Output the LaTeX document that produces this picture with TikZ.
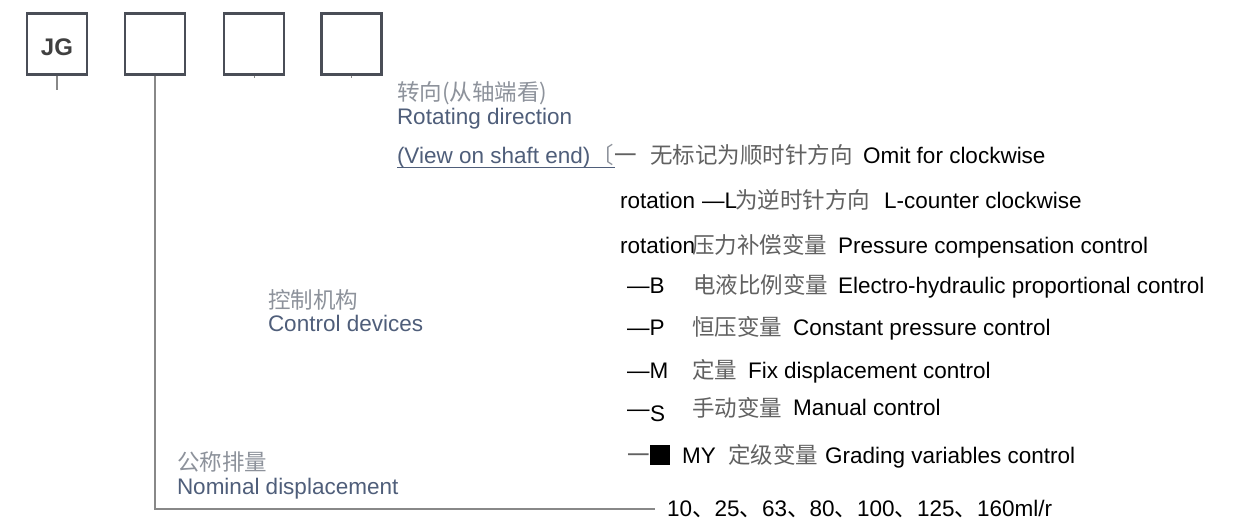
\documentclass[tikz,border=0pt]{standalone}
\usepackage{fontspec}
\setmainfont{Liberation Sans}
\newfontfamily\cjk{Noto Sans CJK SC}
\definecolor{lblue}{HTML}{4F5E7A}
\definecolor{lgray}{HTML}{8D929B}
\definecolor{bgray}{HTML}{616161}
\definecolor{boxc}{HTML}{4A4E57}
\definecolor{connc}{HTML}{888888}
\newcommand\myfs{\fontsize{22.5}{26}\selectfont}
\begin{document}
\begin{tikzpicture}[x=1pt,y=-1pt,
  box/.style={draw=boxc, line width=2.2pt, minimum width=60pt, minimum height=61pt, inner sep=0pt},
  conn/.style={draw=connc, line width=1.6pt},
  t/.style={anchor=base west, inner sep=0pt, outer sep=0pt, font=\myfs},
  lab/.style={t, text=lblue},
  labc/.style={t, text=lgray, font=\myfs\cjk},
  body/.style={t, text=black},
  bodyc/.style={t, text=bgray, font=\myfs\cjk},
]
\fill[white] (0,0) rectangle (1245,520);
\useasboundingbox (0,0) rectangle (1245,520);

% boxes
\node[box] (jg) at (57,44) {};
\node[anchor=base, inner sep=0pt, font=\fontsize{24}{24}\selectfont\bfseries, text=black!75] (jgt) at (57,55.5) {JG};
\node[box] (b2) at (155,44) {};
\node[box] (b3) at (254,44) {};
\node[box] (b4) at (351.5,44) {};

% connectors
\coordinate (jgend) at (57,90);
\coordinate (b3end) at (254,78);
\coordinate (b4end) at (351.5,78);
\coordinate (corner) at (155,509);
\coordinate (numend) at (655,509);
\draw[conn] (jg.south) -- (jgend);
\draw[conn, line width=1pt] (b3.south) -- (b3end);
\draw[conn, line width=1pt] (b4.south) -- (b4end);
\draw[conn] (b2.south) -- (corner) -- (numend);

% rotating direction
\node[labc] (zxcn) at (397,100) {转向(从轴端看)};
\node[lab] (zxen) at (397,124) {Rotating direction};
\node[lab] (view) at (397,163) {(View on shaft end)};
\node[bodyc, text=lgray] (brk) at (591,163) {〔};
\node[bodyc] (yi) at (614,163) {一};
\draw[lblue, line width=1.2pt] (397,167.5) -- (615,167.5);
\node[bodyc] (r1c) at (650,163) {无标记为顺时针方向};
\node[body] (r1e) at (863,163) {Omit for clockwise};

\node[body] (r2a) at (620,208) {rotation};
\node[body] (r2b) at (702,208) {—L};
\node[bodyc] (r2c) at (735,208) {为逆时针方向};
\node[body] (r2e) at (884,208) {L-counter clockwise};

% control devices
\node[body] (r3a) at (620,253) {rotation};
\node[bodyc] (r3c) at (692,253) {压力补偿变量};
\node[body] (r3e) at (838,253) {Pressure compensation control};

\node[body] (rBk) at (627,293) {—B};
\node[bodyc] (rBc) at (693,293) {电液比例变量};
\node[body] (rBe) at (838,293) {Electro-hydraulic proportional control};

\node[body] (rPk) at (627,335) {—P};
\node[bodyc] (rPc) at (692,335) {恒压变量};
\node[body] (rPe) at (793,335) {Constant pressure control};

\node[body] (rMk) at (627,378) {—M};
\node[bodyc] (rMc) at (692,378) {定量};
\node[body] (rMe) at (748,378) {Fix displacement control};

\node[body] (rSd) at (627,416) {—};
\node[body] (rSk) at (650,421) {S};
\node[bodyc] (rSc) at (692,416) {手动变量};
\node[body] (rSe) at (793,415) {Manual control};

\node[bodyc] (rYk) at (627,463) {一};
\node[fill=black, minimum size=20pt, inner sep=0pt] (sq) at (660,455) {};
\node[body] (rYa) at (682,463) {MY};
\node[bodyc] (rYc) at (728,463) {定级变量};
\node[body] (rYe) at (825,463) {Grading variables control};

% displacement values
\node[body] (nums) at (667,516) {10{\cjk 、}25{\cjk 、}63{\cjk 、}80{\cjk 、}100{\cjk 、}125{\cjk 、}160ml/r};

% left labels
\node[labc] (kzcn) at (268,308) {控制机构};
\node[lab] (kzen) at (268,331) {Control devices};
\node[labc] (gccn) at (177,470) {公称排量};
\node[lab] (gcen) at (177,494) {Nominal displacement};
\end{tikzpicture}
\end{document}
